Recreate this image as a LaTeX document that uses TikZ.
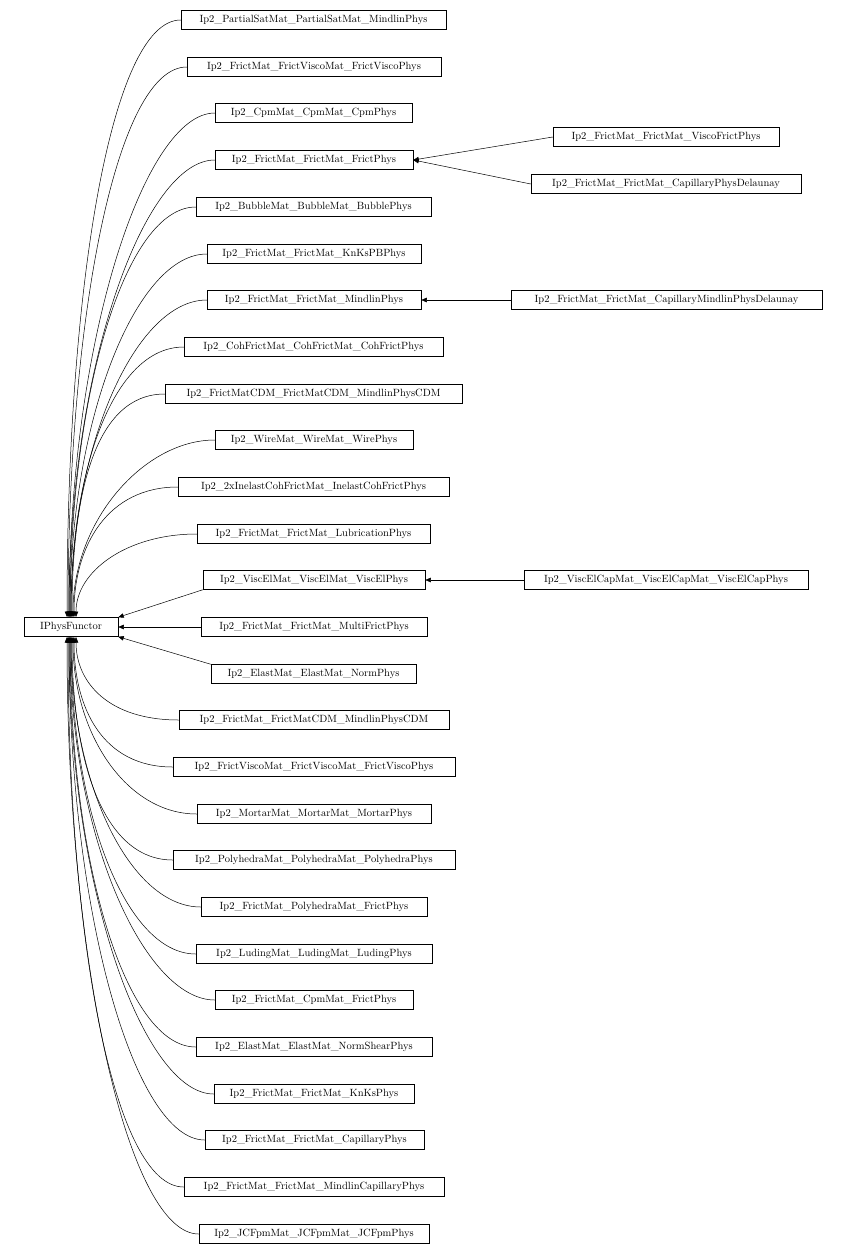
\documentclass[tikz,border=0pt]{standalone}
\usetikzlibrary{arrows.meta,calc}
\begin{document}
\begin{tikzpicture}[x=1pt,y=-1pt,
 box/.style={draw,line width=0.5pt,minimum height=19pt,inner sep=0pt,font=\fontsize{10.5}{12}\selectfont},
 ed/.style={line width=0.5pt,-{Triangle[length=5.5pt,width=4.5pt]}}]
\useasboundingbox (0,0) rectangle (846,1256);
\newcommand{\bx}[5]{\node[box,minimum width=#4-#3] (#1) at ({(#3+#4)/2},#2) {#5};}
\bx{ip}{627}{24}{118}{IPhysFunctor}
\bx{a1}{20}{181}{446}{Ip2\_PartialSatMat\_PartialSatMat\_MindlinPhys}
\bx{a2}{67}{187}{441}{Ip2\_FrictMat\_FrictViscoMat\_FrictViscoPhys}
\bx{a3}{113}{215}{412}{Ip2\_CpmMat\_CpmMat\_CpmPhys}
\bx{a4}{160}{215}{413}{Ip2\_FrictMat\_FrictMat\_FrictPhys}
\bx{a5}{207}{196}{431}{Ip2\_BubbleMat\_BubbleMat\_BubblePhys}
\bx{a6}{254}{207}{421}{Ip2\_FrictMat\_FrictMat\_KnKsPBPhys}
\bx{a7}{300}{207}{421}{Ip2\_FrictMat\_FrictMat\_MindlinPhys}
\bx{a8}{347}{184}{443}{Ip2\_CohFrictMat\_CohFrictMat\_CohFrictPhys}
\bx{a9}{394}{165}{462}{Ip2\_FrictMatCDM\_FrictMatCDM\_MindlinPhysCDM}
\bx{a10}{440}{215}{413}{Ip2\_WireMat\_WireMat\_WirePhys}
\bx{a11}{487}{178}{449}{Ip2\_2xInelastCohFrictMat\_InelastCohFrictPhys}
\bx{a12}{534}{197}{430}{Ip2\_FrictMat\_FrictMat\_LubricationPhys}
\bx{a13}{580}{203}{425}{Ip2\_ViscElMat\_ViscElMat\_ViscElPhys}
\bx{a14}{627}{201}{427}{Ip2\_FrictMat\_FrictMat\_MultiFrictPhys}
\bx{a15}{674}{211}{416}{Ip2\_ElastMat\_ElastMat\_NormPhys}
\bx{a16}{720}{179}{449}{Ip2\_FrictMat\_FrictMatCDM\_MindlinPhysCDM}
\bx{a17}{767}{173}{455}{Ip2\_FrictViscoMat\_FrictViscoMat\_FrictViscoPhys}
\bx{a18}{814}{197}{431}{Ip2\_MortarMat\_MortarMat\_MortarPhys}
\bx{a19}{860}{173}{455}{Ip2\_PolyhedraMat\_PolyhedraMat\_PolyhedraPhys}
\bx{a20}{907}{201}{427}{Ip2\_FrictMat\_PolyhedraMat\_FrictPhys}
\bx{a21}{954}{196}{432}{Ip2\_LudingMat\_LudingMat\_LudingPhys}
\bx{a22}{1000}{215}{413}{Ip2\_FrictMat\_CpmMat\_FrictPhys}
\bx{a23}{1047}{196}{432}{Ip2\_ElastMat\_ElastMat\_NormShearPhys}
\bx{a24}{1094}{214}{414}{Ip2\_FrictMat\_FrictMat\_KnKsPhys}
\bx{a25}{1140}{205}{424}{Ip2\_FrictMat\_FrictMat\_CapillaryPhys}
\bx{a26}{1187}{184}{444}{Ip2\_FrictMat\_FrictMat\_MindlinCapillaryPhys}
\bx{a27}{1234}{199}{429}{Ip2\_JCFpmMat\_JCFpmMat\_JCFpmPhys}
\bx{b1}{137}{553}{779}{Ip2\_FrictMat\_FrictMat\_ViscoFrictPhys}
\bx{b2}{184}{531}{801}{Ip2\_FrictMat\_FrictMat\_CapillaryPhysDelaunay}
\bx{b3}{300}{511}{822}{Ip2\_FrictMat\_FrictMat\_CapillaryMindlinPhysDelaunay}
\bx{b4}{580}{524}{808}{Ip2\_ViscElCapMat\_ViscElCapMat\_ViscElCapPhys}
\foreach \n/\ex in {a1/67,a2/68,a3/69,a4/69,a5/70,a6/70,a7/71,a8/71,a9/72,a10/73,a11/74,a12/76}{
  \coordinate (e) at (\ex,617);
  \draw[ed] (\n.west) .. controls ($(\n.west)+(-70,0)$) and ($(e)!0.55!(e|-\n.west)$) .. (e);}
\foreach \n/\ex in {a16/76,a17/74,a18/73,a19/72,a20/71,a21/71,a22/70,a23/70,a24/69,a25/69,a26/68,a27/67}{
  \coordinate (e) at (\ex,637);
  \draw[ed] (\n.west) .. controls ($(\n.west)+(-70,0)$) and ($(e)!0.55!(e|-\n.west)$) .. (e);}
\draw[ed] (a13.south west) -- (ip.north east);
\draw[ed] (a14.west) -- (ip.east);
\draw[ed] (a15.north west) -- (ip.south east);
\draw[ed] (b1.west) -- (a4.east);
\draw[ed] (b2.west) -- (a4.east);
\draw[ed] (b3.west) -- (a7.east);
\draw[ed] (b4.west) -- (a13.east);
\end{tikzpicture}
\end{document}
